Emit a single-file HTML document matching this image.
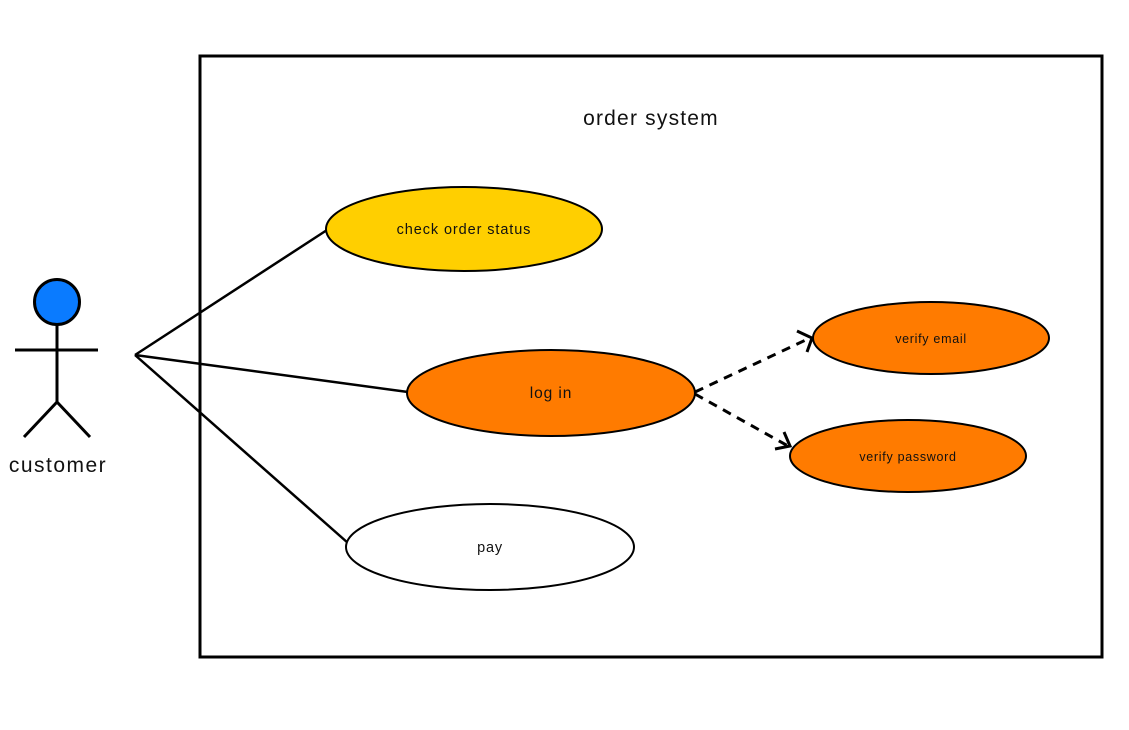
<!DOCTYPE html>
<html><head><meta charset="utf-8"><style>
html,body{margin:0;padding:0;background:#fff;width:1129px;height:730px;overflow:hidden}
text{font-family:"Liberation Sans",sans-serif;fill:#111}
</style></head><body>
<svg width="1129" height="730" viewBox="0 0 1129 730" xmlns="http://www.w3.org/2000/svg">
<rect x="200" y="56" width="902" height="601" fill="none" stroke="#000" stroke-width="3"/>
<text x="651" y="125" font-size="21" letter-spacing="1.2" text-anchor="middle">order system</text>
<g stroke="#000" stroke-width="2.5" fill="none">
<line x1="135" y1="355" x2="327" y2="230"/>
<line x1="135" y1="355" x2="408" y2="392"/>
<line x1="135" y1="355" x2="348" y2="543"/>
</g>
<g stroke="#000" stroke-width="3" fill="none">
<line x1="57" y1="325" x2="57" y2="402"/>
<line x1="15" y1="350" x2="98" y2="350"/>
<line x1="57" y1="402" x2="24" y2="437"/>
<line x1="57" y1="402" x2="90" y2="437"/>
</g>
<circle cx="57" cy="302" r="22.5" fill="#0a7bff" stroke="#000" stroke-width="3"/>
<text x="58" y="472" font-size="21" letter-spacing="1.5" text-anchor="middle">customer</text>
<ellipse cx="464" cy="229" rx="138" ry="42" fill="#ffcf00" stroke="#000" stroke-width="2"/>
<text x="464" y="234" font-size="14.5" letter-spacing="0.9" text-anchor="middle">check order status</text>
<ellipse cx="551" cy="393" rx="144" ry="43" fill="#ff7b00" stroke="#000" stroke-width="2"/>
<text x="551" y="398" font-size="15.5" letter-spacing="0.9" text-anchor="middle">log in</text>
<ellipse cx="490" cy="547" rx="144" ry="43" fill="#fff" stroke="#000" stroke-width="2"/>
<text x="490" y="552" font-size="14.5" letter-spacing="0.8" text-anchor="middle">pay</text>
<ellipse cx="931" cy="338" rx="118" ry="36" fill="#ff7b00" stroke="#000" stroke-width="2"/>
<text x="931" y="343" font-size="12.5" letter-spacing="0.7" text-anchor="middle">verify email</text>
<ellipse cx="908" cy="456" rx="118" ry="36" fill="#ff7b00" stroke="#000" stroke-width="2"/>
<text x="908" y="461" font-size="12.5" letter-spacing="0.7" text-anchor="middle">verify password</text>
<g stroke="#000" stroke-width="3" fill="none">
<line x1="695" y1="392" x2="810" y2="338" stroke-dasharray="9,7"/>
<line x1="695" y1="394" x2="788" y2="446" stroke-dasharray="9,7"/>
<polyline points="797,331 812,338 807,352"/>
<polyline points="775,449 790,446 784,432"/>
</g>
</svg>
</body></html>
